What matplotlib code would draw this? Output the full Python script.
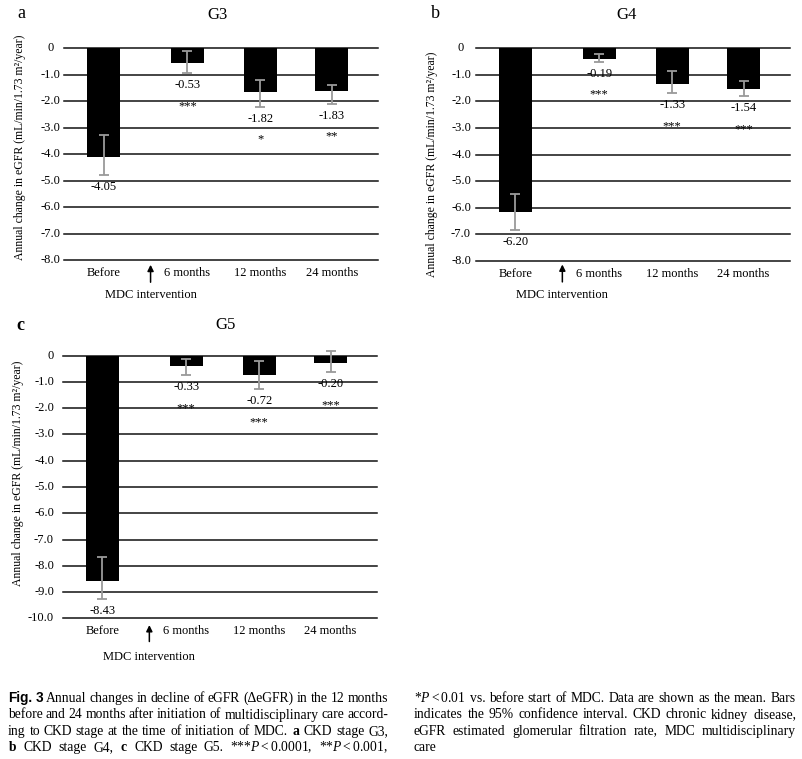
import matplotlib
matplotlib.use("Agg")
import matplotlib.pyplot as plt
from matplotlib.transforms import IdentityTransform

plt.rcParams['font.family'] = ['Liberation Serif', 'DejaVu Serif']
plt.rcParams['mathtext.fontset'] = 'custom'
plt.rcParams['mathtext.rm'] = 'Liberation Serif'
plt.rcParams['mathtext.it'] = 'Liberation Serif:italic'
plt.rcParams['mathtext.bf'] = 'Liberation Serif:bold'

W, H = 802, 759
PX = 0.72  # points per pixel at dpi 100

categories = ["Before", "6 months", "12 months", "24 months"]

# G3
g3_mean = [-4.10, -0.56, -1.64, -1.62]
g3_low = [-4.79, -0.95, -2.21, -2.09]
g3_high = [-3.28, -0.09, -1.20, -1.39]
g3_text = ["-4.05", "-0.53", "-1.82", "-1.83"]
g3_stars = ["", "***", "*", "**"]

# G4
g4_mean = [-6.16, -0.40, -1.36, -1.55]
g4_low = [-6.85, -0.50, -1.69, -1.80]
g4_high = [-5.49, -0.21, -0.84, -1.25]
g4_text = ["-6.20", "-0.19", "-1.33", "-1.54"]
g4_stars = ["", "***", "***", "***"]

# G5
g5_mean = [-8.58, -0.39, -0.75, -0.27]
g5_low = [-9.25, -0.75, -1.27, -0.63]
g5_high = [-7.65, -0.14, -0.19, 0.19]
g5_text = ["-8.43", "-0.33", "-0.72", "-0.20"]
g5_stars = ["", "***", "***", "***"]

caption_left = [
    "Fig. 3 Annual changes in decline of eGFR (\u0394eGFR) in the 12 months",
    "before and 24 months after initiation of multidisciplinary care accord-",
    r"ing to CKD stage at the time of initiation of MDC. $\mathbf{a}$ CKD stage G3,",
    r"$\mathbf{b}$ CKD stage G4, $\mathbf{c}$ CKD stage G5. ***$P<0.0001$, **$P<0.001$,",
]
caption_right = [
    r"*$P<0.01$ vs. before start of MDC. Data are shown as the mean. Bars",
    "indicates the 95% confidence interval. CKD chronic kidney disease,",
    "eGFR estimated glomerular filtration rate, MDC multidisciplinary",
    "care",
]

xpos = [0, 1.07, 2.0, 2.91]
arrow_x = 0.6


def px_rect(left, top, right, bottom):
    return [left / W, 1 - bottom / H, (right - left) / W, (bottom - top) / H]


def fig_text(x, y, s, **kw):
    fig.text(x / W, 1 - y / H, s, ha='center', va='center', **kw)


def draw_panel(rect_px, mean, low, high, text, stars, ymin, tick_ha, tick_off, arrow_px):
    ax = fig.add_axes(px_rect(*rect_px))
    ax_h = rect_px[3] - rect_px[1]
    ax.set_xlim(-0.5, 3.5)
    ax.set_ylim(ymin, 0)
    for s in ax.spines.values():
        s.set_visible(False)
    ax.set_yticks([])
    ax.set_xticks(xpos)
    ax.set_xticklabels(categories, fontsize=9)
    ax.tick_params(axis='x', length=0, pad=5)

    for v in range(0, ymin - 1, -1):
        ax.axhline(v, color='#111111', lw=1.1, zorder=1, clip_on=False)
        lab = "0" if v == 0 else f"{v:.1f}"
        ax.annotate(lab, xy=(0, v), xycoords=('axes fraction', 'data'),
                    xytext=(tick_off * PX, 0), textcoords='offset points',
                    ha=tick_ha, va='center', fontsize=9)

    ax.bar(xpos, mean, width=0.42, color='black', zorder=2)
    yerr = [[m - lo for m, lo in zip(mean, low)], [hi - m for m, hi in zip(mean, high)]]
    eb = ax.errorbar(xpos, mean, yerr=yerr, fmt='none', ecolor='#9a9a9a',
                     elinewidth=1.3, capsize=3.5, capthick=1.3, zorder=3)
    for art in list(eb.lines[1]) + list(eb.lines[2]):
        art.set_clip_on(False)

    for i in range(len(xpos)):
        ax.annotate(text[i], xy=(xpos[i], low[i]), xytext=(0, -12 * PX),
                    textcoords='offset points', ha='center', va='center', fontsize=9)
        if stars[i]:
            ax.annotate(stars[i], xy=(xpos[i], low[i]), xytext=(0, -33 * PX),
                        textcoords='offset points', ha='center', va='center', fontsize=9)

    tip, tail, lab_y = arrow_px
    ax.annotate("", xy=(arrow_x, -tip / ax_h), xycoords=('data', 'axes fraction'),
                xytext=(arrow_x, -tail / ax_h), textcoords=('data', 'axes fraction'),
                arrowprops=dict(arrowstyle='-|>', lw=1.1, color='black', mutation_scale=9))
    ax.annotate("MDC intervention", xy=(arrow_x, -lab_y / ax_h), xycoords=('data', 'axes fraction'),
                ha='center', va='center', fontsize=9, annotation_clip=False)
    return ax


fig = plt.figure(figsize=(W / 100, H / 100), dpi=100)

draw_panel((64.3, 48.3, 378, 260), g3_mean, g3_low, g3_high, g3_text, g3_stars, -8,
           'center', -14, (2, 25, 35))
draw_panel((476, 48.3, 790, 260.7), g4_mean, g4_low, g4_high, g4_text, g4_stars, -8,
           'center', -15, (1, 24, 34))
draw_panel((63, 355.7, 377, 618.3), g5_mean, g5_low, g5_high, g5_text, g5_stars, -10,
           'right', -9, (4, 26, 39))

ylab = "Annual change in eGFR (mL/min/1.73 m\u00b2/year)"
fig_text(20, 147.5, ylab, rotation=90, fontsize=8.5)
fig_text(432, 164, ylab, rotation=90, fontsize=8.5)
fig_text(18, 473, ylab, rotation=90, fontsize=8.5)

fig_text(217.7, 15, "G3", fontsize=12)
fig_text(626.7, 15, "G4", fontsize=12)
fig_text(226, 325, "G5", fontsize=12)
fig_text(21.7, 14, "a", fontsize=13)
fig_text(435, 14, "b", fontsize=13)
fig_text(20, 325, "c", fontsize=13, fontweight='bold')

# caption, justified word by word
renderer = fig.canvas.get_renderer()
cap_size = 9.8


def put_line(x0, x1, base_y, line, justify, first=False):
    words = line.split(' ')
    arts = []
    for k, w in enumerate(words):
        kw = dict(fontsize=cap_size)
        if first and k < 2:
            kw = dict(fontsize=cap_size, family='Liberation Sans', fontweight='bold')
        t = fig.text(x0, H - base_y, w, transform=IdentityTransform(),
                     ha='left', va='baseline', **kw)
        arts.append(t)
    widths = [t.get_window_extent(renderer).width for t in arts]
    if justify and len(words) > 1:
        gap = (x1 - x0 - sum(widths)) / (len(words) - 1)
    else:
        gap = cap_size / 72 * 100 * 0.25
    x = x0
    for t, wd in zip(arts, widths):
        t.set_x(x)
        x += wd + gap


baselines = [702, 718.5, 735, 751]
for i, line in enumerate(caption_left):
    put_line(8, 388, baselines[i], line, True, first=(i == 0))
for i, line in enumerate(caption_right):
    put_line(414, 796, baselines[i], line, i < len(caption_right) - 1)

fig.savefig("out.png", dpi=100, facecolor='white')
